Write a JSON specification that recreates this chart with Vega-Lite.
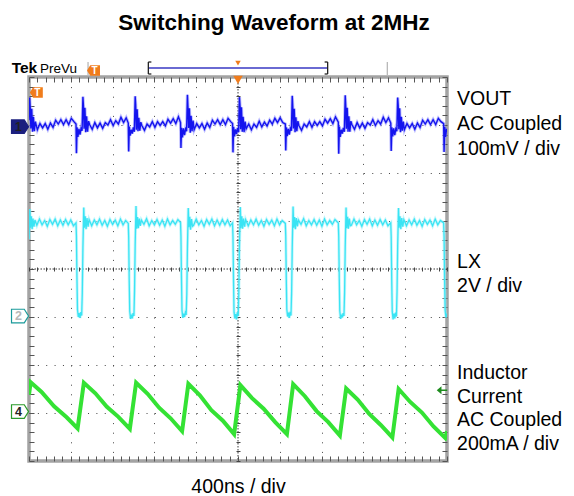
{
"$schema": "https://vega.github.io/schema/vega-lite/v6.json",
"autosize": {"type": "none"},
"width": 418,
"height": 384,
"padding": {"left": 29, "top": 77, "right": 127, "bottom": 35},
"background": "white",
"title": {"text": "Switching Waveform at 2MHz", "font": "Liberation Sans", "fontSize": 22.5, "fontWeight": "bold", "color": "#000", "anchor": "middle", "dx": 36, "offset": 8, "baseline": "alphabetic"},
"config": {"view": {"stroke": "#a3a3a3", "strokeWidth": 3.5}, "font": "Liberation Sans"},
"resolve": {"axis": {"x": "independent", "y": "independent"}},
"datasets": {
"vout": [
{"t":0,"d":3.10},{"t":6,"d":3.57},{"t":12,"d":3.35},{"t":18,"d":2.93},{"t":26,"d":3.34},{"t":34,"d":2.86},{"t":42,"d":3.17},{"t":51,"d":2.87},{"t":61,"d":3.07},
{"t":80,"d":2.90},{"t":105,"d":3.03},{"t":130,"d":2.94},{"t":155,"d":3.03},{"t":180,"d":2.91},{"t":205,"d":3.04},{"t":230,"d":2.95},{"t":255,"d":3.10},{"t":280,"d":3.02},{"t":305,"d":3.11},{"t":330,"d":3.01},{"t":355,"d":3.11},{"t":380,"d":3.01},{"t":405,"d":3.14},{"t":430,"d":3.07},
{"t":450,"d":3.02},{"t":454,"d":2.41},{"t":460,"d":2.95},{"t":468,"d":2.75},{"t":478,"d":2.92},{"t":488,"d":2.80},{"t":498,"d":2.93},{"t":508,"d":2.88},{"t":516,"d":3.59},{"t":521,"d":3.40},{"t":527,"d":2.92},{"t":535,"d":3.36},{"t":543,"d":2.85},{"t":551,"d":3.18},{"t":560,"d":2.86},{"t":570,"d":3.08},
{"t":580,"d":3.01},{"t":605,"d":2.91},{"t":630,"d":3.05},{"t":655,"d":2.94},{"t":680,"d":3.04},{"t":705,"d":2.93},{"t":730,"d":3.05},{"t":755,"d":3.00},{"t":780,"d":3.11},{"t":805,"d":2.99},{"t":830,"d":3.09},{"t":855,"d":3.02},{"t":880,"d":3.16},{"t":905,"d":3.05},{"t":930,"d":3.15},
{"t":950,"d":3.04},{"t":954,"d":2.45},{"t":960,"d":2.97},{"t":968,"d":2.78},{"t":978,"d":2.90},{"t":988,"d":2.82},{"t":998,"d":2.95},{"t":1008,"d":2.86},{"t":1016,"d":3.60},{"t":1021,"d":3.42},{"t":1027,"d":2.90},{"t":1035,"d":3.33},{"t":1043,"d":2.87},{"t":1051,"d":3.15},{"t":1060,"d":2.88},{"t":1070,"d":3.06},
{"t":1080,"d":2.99},{"t":1105,"d":2.89},{"t":1130,"d":3.02},{"t":1155,"d":2.96},{"t":1180,"d":3.07},{"t":1205,"d":2.95},{"t":1230,"d":3.07},{"t":1255,"d":2.99},{"t":1280,"d":3.07},{"t":1305,"d":2.98},{"t":1330,"d":3.12},{"t":1355,"d":3.04},{"t":1380,"d":3.13},{"t":1405,"d":3.03},{"t":1430,"d":3.17},
{"t":1450,"d":3.05},{"t":1454,"d":2.52},{"t":1460,"d":2.94},{"t":1468,"d":2.74},{"t":1478,"d":2.93},{"t":1488,"d":2.79},{"t":1498,"d":2.92},{"t":1508,"d":2.87},{"t":1516,"d":3.63},{"t":1521,"d":3.38},{"t":1527,"d":2.94},{"t":1535,"d":3.35},{"t":1543,"d":2.84},{"t":1551,"d":3.19},{"t":1560,"d":2.87},{"t":1570,"d":3.09},
{"t":1580,"d":2.90},{"t":1605,"d":3.03},{"t":1630,"d":2.94},{"t":1655,"d":3.03},{"t":1680,"d":2.91},{"t":1705,"d":3.04},{"t":1730,"d":2.95},{"t":1755,"d":3.10},{"t":1780,"d":3.02},{"t":1805,"d":3.11},{"t":1830,"d":3.01},{"t":1855,"d":3.11},{"t":1880,"d":3.01},{"t":1905,"d":3.14},{"t":1930,"d":3.07},
{"t":1948,"d":3.03},{"t":1952,"d":2.43},{"t":1958,"d":2.96},{"t":1966,"d":2.76},{"t":1976,"d":2.91},{"t":1986,"d":2.81},{"t":1996,"d":2.94},{"t":2006,"d":2.85},{"t":2014,"d":3.58},{"t":2019,"d":3.41},{"t":2025,"d":2.91},{"t":2033,"d":3.37},{"t":2041,"d":2.86},{"t":2049,"d":3.17},{"t":2058,"d":2.85},{"t":2068,"d":3.07},
{"t":2078,"d":2.92},{"t":2103,"d":3.02},{"t":2128,"d":2.90},{"t":2153,"d":3.02},{"t":2178,"d":2.95},{"t":2203,"d":3.08},{"t":2228,"d":2.96},{"t":2253,"d":3.06},{"t":2278,"d":2.98},{"t":2303,"d":3.10},{"t":2328,"d":3.02},{"t":2353,"d":3.14},{"t":2378,"d":3.05},{"t":2403,"d":3.15},{"t":2428,"d":3.05},
{"t":2453,"d":3.02},{"t":2457,"d":2.47},{"t":2463,"d":2.95},{"t":2471,"d":2.77},{"t":2481,"d":2.92},{"t":2491,"d":2.80},{"t":2501,"d":2.93},{"t":2511,"d":2.88},{"t":2519,"d":3.61},{"t":2524,"d":3.39},{"t":2530,"d":2.93},{"t":2538,"d":3.34},{"t":2546,"d":2.85},{"t":2554,"d":3.16},{"t":2563,"d":2.87},{"t":2573,"d":3.08},
{"t":2583,"d":2.99},{"t":2608,"d":2.89},{"t":2633,"d":3.02},{"t":2658,"d":2.96},{"t":2683,"d":3.07},{"t":2708,"d":2.95},{"t":2733,"d":3.07},{"t":2758,"d":2.99},{"t":2783,"d":3.07},{"t":2808,"d":2.98},{"t":2833,"d":3.12},{"t":2858,"d":3.04},{"t":2883,"d":3.13},{"t":2908,"d":3.03},{"t":2933,"d":3.17},
{"t":2960,"d":3.06},{"t":2964,"d":2.40},{"t":2970,"d":2.97},{"t":2978,"d":2.75},{"t":2988,"d":2.90},{"t":2998,"d":2.82},{"t":3008,"d":2.94},{"t":3018,"d":2.86},{"t":3026,"d":3.62},{"t":3031,"d":3.40},{"t":3037,"d":2.92},{"t":3045,"d":3.36},{"t":3053,"d":2.86},{"t":3061,"d":3.18},{"t":3070,"d":2.86},{"t":3080,"d":3.08},
{"t":3090,"d":3.01},{"t":3115,"d":2.91},{"t":3140,"d":3.05},{"t":3165,"d":2.94},{"t":3190,"d":3.04},{"t":3215,"d":2.93},{"t":3240,"d":3.05},{"t":3265,"d":3.00},{"t":3290,"d":3.11},{"t":3315,"d":2.99},{"t":3340,"d":3.09},{"t":3365,"d":3.02},{"t":3390,"d":3.16},{"t":3415,"d":3.05},{"t":3440,"d":3.15},
{"t":3462,"d":3.04},{"t":3466,"d":2.46},{"t":3472,"d":2.95},{"t":3480,"d":2.76},{"t":3490,"d":2.93},{"t":3500,"d":2.79},{"t":3510,"d":2.92},{"t":3520,"d":2.87},{"t":3528,"d":3.57},{"t":3533,"d":3.41},{"t":3539,"d":2.91},{"t":3547,"d":3.35},{"t":3555,"d":2.85},{"t":3563,"d":3.17},{"t":3572,"d":2.88},{"t":3582,"d":3.07},
{"t":3592,"d":2.90},{"t":3617,"d":3.03},{"t":3642,"d":2.94},{"t":3667,"d":3.03},{"t":3692,"d":2.91},{"t":3717,"d":3.04},{"t":3742,"d":2.95},{"t":3767,"d":3.10},{"t":3792,"d":3.02},{"t":3817,"d":3.11},{"t":3842,"d":3.01},{"t":3867,"d":3.11},{"t":3892,"d":3.01},{"t":3917,"d":3.14},{"t":3942,"d":3.07},
{"t":3968,"d":3.03},{"t":3972,"d":2.44},{"t":3978,"d":2.96},{"t":3986,"d":2.75},{"t":3996,"d":2.92},{"t":4000,"d":2.86}
],
"lx": [
{"t":0,"d":0.62},{"t":8,"d":1.25},{"t":14,"d":0.86},{"t":22,"d":1.10},{"t":30,"d":0.83},{"t":38,"d":1.05},{"t":47,"d":0.88},{"t":57,"d":1.02},
{"t":75,"d":0.91},{"t":100,"d":1.04},{"t":125,"d":0.92},{"t":150,"d":1.01},{"t":175,"d":0.89},{"t":200,"d":1.03},{"t":225,"d":0.93},{"t":250,"d":1.04},{"t":275,"d":0.90},{"t":300,"d":1.02},{"t":325,"d":0.91},{"t":350,"d":1.03},{"t":375,"d":0.92},{"t":400,"d":1.02},{"t":425,"d":0.90},
{"t":450,"d":0.96},{"t":454,"d":0.68},{"t":459,"d":-0.20},{"t":464,"d":-0.85},{"t":472,"d":-1.00},{"t":480,"d":-0.92},{"t":488,"d":-1.02},{"t":496,"d":-0.90},{"t":504,"d":-0.97},{"t":510,"d":-0.50},{"t":516,"d":0.45},{"t":524,"d":1.28},{"t":530,"d":0.86},{"t":538,"d":1.10},{"t":546,"d":0.83},{"t":555,"d":1.06},{"t":565,"d":0.88},
{"t":575,"d":1.03},{"t":600,"d":0.90},{"t":625,"d":1.02},{"t":650,"d":0.92},{"t":675,"d":1.04},{"t":700,"d":0.91},{"t":725,"d":1.01},{"t":750,"d":0.89},{"t":775,"d":1.03},{"t":800,"d":0.93},{"t":825,"d":1.02},{"t":850,"d":0.90},{"t":875,"d":1.04},{"t":900,"d":0.92},{"t":925,"d":1.01},
{"t":950,"d":0.95},{"t":954,"d":0.66},{"t":959,"d":-0.25},{"t":964,"d":-0.88},{"t":972,"d":-1.04},{"t":980,"d":-0.95},{"t":988,"d":-1.03},{"t":996,"d":-0.92},{"t":1004,"d":-0.98},{"t":1010,"d":-0.45},{"t":1016,"d":0.50},{"t":1024,"d":1.31},{"t":1030,"d":0.84},{"t":1038,"d":1.08},{"t":1046,"d":0.85},{"t":1055,"d":1.05},{"t":1065,"d":0.90},
{"t":1075,"d":1.02},{"t":1100,"d":0.93},{"t":1125,"d":1.05},{"t":1150,"d":0.90},{"t":1175,"d":1.01},{"t":1200,"d":0.92},{"t":1225,"d":1.03},{"t":1250,"d":0.91},{"t":1275,"d":1.02},{"t":1300,"d":0.89},{"t":1325,"d":1.04},{"t":1350,"d":0.92},{"t":1375,"d":1.01},{"t":1400,"d":0.93},{"t":1425,"d":1.03},
{"t":1450,"d":0.97},{"t":1454,"d":0.70},{"t":1459,"d":-0.18},{"t":1464,"d":-0.86},{"t":1472,"d":-1.02},{"t":1480,"d":-0.93},{"t":1488,"d":-1.00},{"t":1496,"d":-0.91},{"t":1504,"d":-0.96},{"t":1510,"d":-0.52},{"t":1516,"d":0.42},{"t":1524,"d":1.27},{"t":1530,"d":0.87},{"t":1538,"d":1.09},{"t":1546,"d":0.82},{"t":1555,"d":1.04},{"t":1565,"d":0.89},
{"t":1575,"d":0.91},{"t":1600,"d":1.04},{"t":1625,"d":0.92},{"t":1650,"d":1.01},{"t":1675,"d":0.89},{"t":1700,"d":1.03},{"t":1725,"d":0.93},{"t":1750,"d":1.04},{"t":1775,"d":0.90},{"t":1800,"d":1.02},{"t":1825,"d":0.91},{"t":1850,"d":1.03},{"t":1875,"d":0.92},{"t":1900,"d":1.02},{"t":1925,"d":0.90},
{"t":1948,"d":0.96},{"t":1952,"d":0.67},{"t":1957,"d":-0.22},{"t":1962,"d":-0.90},{"t":1970,"d":-1.03},{"t":1978,"d":-0.94},{"t":1986,"d":-1.05},{"t":1994,"d":-0.90},{"t":2002,"d":-0.98},{"t":2008,"d":-0.48},{"t":2014,"d":0.47},{"t":2022,"d":1.29},{"t":2028,"d":0.85},{"t":2036,"d":1.10},{"t":2044,"d":0.84},{"t":2053,"d":1.05},{"t":2063,"d":0.88},
{"t":2073,"d":1.03},{"t":2098,"d":0.90},{"t":2123,"d":1.02},{"t":2148,"d":0.92},{"t":2173,"d":1.04},{"t":2198,"d":0.91},{"t":2223,"d":1.01},{"t":2248,"d":0.89},{"t":2273,"d":1.03},{"t":2298,"d":0.93},{"t":2323,"d":1.02},{"t":2348,"d":0.90},{"t":2373,"d":1.04},{"t":2398,"d":0.92},{"t":2423,"d":1.01},
{"t":2453,"d":0.95},{"t":2457,"d":0.69},{"t":2462,"d":-0.21},{"t":2467,"d":-0.84},{"t":2475,"d":-0.99},{"t":2483,"d":-0.91},{"t":2491,"d":-1.02},{"t":2499,"d":-0.89},{"t":2507,"d":-0.97},{"t":2513,"d":-0.50},{"t":2519,"d":0.44},{"t":2527,"d":1.30},{"t":2533,"d":0.86},{"t":2541,"d":1.08},{"t":2549,"d":0.83},{"t":2558,"d":1.06},{"t":2568,"d":0.89},
{"t":2578,"d":1.02},{"t":2603,"d":0.93},{"t":2628,"d":1.05},{"t":2653,"d":0.90},{"t":2678,"d":1.01},{"t":2703,"d":0.92},{"t":2728,"d":1.03},{"t":2753,"d":0.91},{"t":2778,"d":1.02},{"t":2803,"d":0.89},{"t":2828,"d":1.04},{"t":2853,"d":0.92},{"t":2878,"d":1.01},{"t":2903,"d":0.93},{"t":2928,"d":1.03},
{"t":2960,"d":0.96},{"t":2964,"d":0.68},{"t":2969,"d":-0.20},{"t":2974,"d":-0.87},{"t":2982,"d":-1.04},{"t":2990,"d":-0.95},{"t":2998,"d":-1.01},{"t":3006,"d":-0.92},{"t":3014,"d":-0.98},{"t":3020,"d":-0.49},{"t":3026,"d":0.46},{"t":3034,"d":1.28},{"t":3040,"d":0.85},{"t":3048,"d":1.09},{"t":3056,"d":0.84},{"t":3065,"d":1.05},{"t":3075,"d":0.90},
{"t":3085,"d":0.91},{"t":3110,"d":1.04},{"t":3135,"d":0.92},{"t":3160,"d":1.01},{"t":3185,"d":0.89},{"t":3210,"d":1.03},{"t":3235,"d":0.93},{"t":3260,"d":1.04},{"t":3285,"d":0.90},{"t":3310,"d":1.02},{"t":3335,"d":0.91},{"t":3360,"d":1.03},{"t":3385,"d":0.92},{"t":3410,"d":1.02},{"t":3435,"d":0.90},
{"t":3462,"d":0.96},{"t":3466,"d":0.67},{"t":3471,"d":-0.23},{"t":3476,"d":-0.88},{"t":3484,"d":-1.05},{"t":3492,"d":-0.93},{"t":3500,"d":-1.03},{"t":3508,"d":-0.91},{"t":3516,"d":-0.99},{"t":3522,"d":-0.47},{"t":3528,"d":0.48},{"t":3536,"d":1.27},{"t":3542,"d":0.86},{"t":3550,"d":1.10},{"t":3558,"d":0.83},{"t":3567,"d":1.06},{"t":3577,"d":0.88},
{"t":3587,"d":1.03},{"t":3612,"d":0.90},{"t":3637,"d":1.02},{"t":3662,"d":0.92},{"t":3687,"d":1.04},{"t":3712,"d":0.91},{"t":3737,"d":1.01},{"t":3762,"d":0.89},{"t":3787,"d":1.03},{"t":3812,"d":0.93},{"t":3837,"d":1.02},{"t":3862,"d":0.90},{"t":3887,"d":1.04},{"t":3912,"d":0.92},{"t":3937,"d":1.01},
{"t":3968,"d":0.96},{"t":3972,"d":0.68},{"t":3977,"d":-0.20},{"t":3982,"d":-0.86},{"t":3990,"d":-1.01},{"t":3998,"d":-0.93},{"t":4000,"d":-0.95}
],
"il": [
{"t":0,"d":-2.62},{"t":16,"d":-2.36},{"t":120,"d":-2.56},{"t":240,"d":-2.86},{"t":360,"d":-3.09},{"t":465,"d":-3.32},
{"t":525,"d":-2.37},{"t":635,"d":-2.59},{"t":745,"d":-2.87},{"t":855,"d":-3.08},{"t":965,"d":-3.33},
{"t":1025,"d":-2.37},{"t":1135,"d":-2.60},{"t":1245,"d":-2.89},{"t":1355,"d":-3.11},{"t":1465,"d":-3.38},
{"t":1525,"d":-2.39},{"t":1635,"d":-2.63},{"t":1745,"d":-2.94},{"t":1855,"d":-3.16},{"t":1963,"d":-3.44},
{"t":2023,"d":-2.42},{"t":2134,"d":-2.69},{"t":2245,"d":-2.91},{"t":2356,"d":-3.19},{"t":2468,"d":-3.44},
{"t":2528,"d":-2.40},{"t":2640,"d":-2.65},{"t":2752,"d":-2.96},{"t":2864,"d":-3.19},{"t":2975,"d":-3.47},
{"t":3035,"d":-2.49},{"t":3145,"d":-2.72},{"t":3256,"d":-3.02},{"t":3366,"d":-3.25},{"t":3477,"d":-3.51},
{"t":3537,"d":-2.50},{"t":3648,"d":-2.77},{"t":3760,"d":-2.99},{"t":3871,"d":-3.28},{"t":3983,"d":-3.52},{"t":4000,"d":-3.38}
],
"labels": [
{"t":4096,"d":3.417,"text":"VOUT"},{"t":4096,"d":2.896,"text":"AC Coupled"},{"t":4096,"d":2.375,"text":"100mV / div"},
{"t":4096,"d":0.021,"text":"LX"},{"t":4096,"d":-0.479,"text":"2V / div"},
{"t":4096,"d":-2.292,"text":"Inductor"},{"t":4096,"d":-2.792,"text":"Current"},{"t":4096,"d":-3.271,"text":"AC Coupled"},{"t":4096,"d":-3.771,"text":"200mA / div"}
],
"chmarks": [
{"t":-86,"d":2.965,"ch":"1"},{"t":-86,"d":-0.98,"ch":"2"},{"t":-86,"d":-2.97,"ch":"4"}
],
"brackets": [
{"t":1142,"t2":1142,"d":4.0625,"d2":4.3125,"part":"bracket"},
{"t":1142,"t2":1171,"d":4.3125,"d2":4.3125,"part":"bracket"},
{"t":1142,"t2":1171,"d":4.0625,"d2":4.0625,"part":"bracket"},
{"t":2858,"t2":2858,"d":4.0625,"d2":4.3125,"part":"bracket"},
{"t":2829,"t2":2858,"d":4.3125,"d2":4.3125,"part":"bracket"},
{"t":2829,"t2":2858,"d":4.0625,"d2":4.0625,"part":"bracket"},
{"t":3429,"t2":3429,"d":4.04,"d2":4.31,"part":"divider"},
{"t":565,"t2":565,"d":4.04,"d2":4.31,"part":"divider"}
]
},
"layer": [
{"data": {"values": [{"d": 0}]}, "mark": {"type": "rule", "color": "#3a3a3a", "strokeWidth": 1, "strokeDash": [1.5, 1.5]},
 "encoding": {"y": {"field": "d", "type": "quantitative", "scale": {"domain": [-4, 4], "nice": false, "zero": false}, "axis": null}}},
{"data": {"values": [{"t": 2000}]}, "mark": {"type": "rule", "color": "#3a3a3a", "strokeWidth": 1, "strokeDash": [1.5, 1.5]},
 "encoding": {"x": {"field": "t", "type": "quantitative", "scale": {"domain": [0, 4000], "nice": false, "zero": false}, "axis": null}}},
{"data": {"name": "il"}, "mark": {"type": "line", "color": "#34e234", "strokeWidth": 4, "clip": true},
 "encoding": {
  "x": {"field": "t", "type": "quantitative", "scale": {"domain": [0, 4000], "nice": false, "zero": false},
        "axis": {"orient": "bottom", "values": [0,80,160,240,320,400,480,560,640,720,800,880,960,1040,1120,1200,1280,1360,1440,1520,1600,1680,1760,1840,1920,2000,2080,2160,2240,2320,2400,2480,2560,2640,2720,2800,2880,2960,3040,3120,3200,3280,3360,3440,3520,3600,3680,3760,3840,3920,4000],
                 "tickSize": -5, "tickColor": "#555", "domain": false, "labels": false, "grid": false,
                 "title": "400ns / div", "titleFont": "Liberation Sans", "titleFontSize": 19.5, "titleFontWeight": "normal", "titleColor": "#000", "titleBaseline": "alphabetic", "titlePadding": 31}},
  "y": {"field": "d", "type": "quantitative", "scale": {"domain": [-4, 4], "nice": false, "zero": false},
        "axis": {"orient": "left", "values": [-4,-3.8,-3.6,-3.4,-3.2,-3,-2.8,-2.6,-2.4,-2.2,-2,-1.8,-1.6,-1.4,-1.2,-1,-0.8,-0.6,-0.4,-0.2,0,0.2,0.4,0.6,0.8,1,1.2,1.4,1.6,1.8,2,2.2,2.4,2.6,2.8,3,3.2,3.4,3.6,3.8,4],
                 "tickSize": -5, "tickColor": "#555", "domain": false, "labels": false, "grid": false, "title": null}}}},
{"data": {"name": "lx"}, "mark": {"type": "line", "color": "#9ff2fa", "strokeWidth": 3, "opacity": 0.6, "clip": true},
 "encoding": {
  "x": {"field": "t", "type": "quantitative", "scale": {"domain": [0, 4000], "nice": false, "zero": false}, "axis": null},
  "y": {"field": "d", "type": "quantitative", "scale": {"domain": [-4, 4], "nice": false, "zero": false}, "axis": null}}},
{"data": {"name": "lx"}, "mark": {"type": "line", "color": "#3ae4f4", "strokeWidth": 1.3, "clip": true},
 "encoding": {
  "x": {"field": "t", "type": "quantitative", "scale": {"domain": [0, 4000], "nice": false, "zero": false},
        "axis": {"orient": "bottom", "values": [400,800,1200,1600,2400,2800,3200,3600], "grid": true, "gridDash": [1, 8.6], "gridColor": "#444", "gridWidth": 1, "ticks": false, "labels": false, "domain": false, "title": null}},
  "y": {"field": "d", "type": "quantitative", "scale": {"domain": [-4, 4], "nice": false, "zero": false},
        "axis": {"orient": "left", "values": [-3,-2,-1,1,2,3], "grid": true, "gridDash": [1, 7.36], "gridColor": "#444", "gridWidth": 1, "ticks": false, "labels": false, "domain": false, "title": null}}}},
{"data": {"name": "vout"}, "mark": {"type": "line", "color": "#8a8aff", "strokeWidth": 3.2, "opacity": 0.55, "clip": true},
 "encoding": {
  "x": {"field": "t", "type": "quantitative", "scale": {"domain": [0, 4000], "nice": false, "zero": false}, "axis": null},
  "y": {"field": "d", "type": "quantitative", "scale": {"domain": [-4, 4], "nice": false, "zero": false}, "axis": null}}},
{"data": {"name": "vout"}, "mark": {"type": "line", "color": "#1414ee", "strokeWidth": 1.4, "clip": true},
 "encoding": {
  "x": {"field": "t", "type": "quantitative", "scale": {"domain": [0, 4000], "nice": false, "zero": false},
        "axis": {"orient": "bottom", "offset": -194, "values": [0,80,160,240,320,400,480,560,640,720,800,880,960,1040,1120,1200,1280,1360,1440,1520,1600,1680,1760,1840,1920,2000,2080,2160,2240,2320,2400,2480,2560,2640,2720,2800,2880,2960,3040,3120,3200,3280,3360,3440,3520,3600,3680,3760,3840,3920,4000],
                 "tickSize": 4, "tickColor": "#444", "domain": false, "labels": false, "grid": false, "title": null}},
  "y": {"field": "d", "type": "quantitative", "scale": {"domain": [-4, 4], "nice": false, "zero": false},
        "axis": {"orient": "left", "offset": -211, "values": [-4,-3.8,-3.6,-3.4,-3.2,-3,-2.8,-2.6,-2.4,-2.2,-2,-1.8,-1.6,-1.4,-1.2,-1,-0.8,-0.6,-0.4,-0.2,0,0.2,0.4,0.6,0.8,1,1.2,1.4,1.6,1.8,2,2.2,2.4,2.6,2.8,3,3.2,3.4,3.6,3.8,4],
                 "tickSize": 4, "tickColor": "#444", "domain": false, "labels": false, "grid": false, "title": null}}}},
{"data": {"name": "labels"}, "mark": {"type": "text", "align": "left", "baseline": "alphabetic", "fontSize": 19.5, "color": "#000"},
 "encoding": {
  "x": {"field": "t", "type": "quantitative", "scale": {"domain": [0, 4000], "nice": false, "zero": false},
        "axis": {"orient": "top", "values": [0,80,160,240,320,400,480,560,640,720,800,880,960,1040,1120,1200,1280,1360,1440,1520,1600,1680,1760,1840,1920,2000,2080,2160,2240,2320,2400,2480,2560,2640,2720,2800,2880,2960,3040,3120,3200,3280,3360,3440,3520,3600,3680,3760,3840,3920,4000],
                 "tickSize": -5, "tickColor": "#555", "domain": false, "labels": false, "grid": false, "title": null}},
  "y": {"field": "d", "type": "quantitative", "scale": {"domain": [-4, 4], "nice": false, "zero": false},
        "axis": {"orient": "right", "values": [-4,-3.8,-3.6,-3.4,-3.2,-3,-2.8,-2.6,-2.4,-2.2,-2,-1.8,-1.6,-1.4,-1.2,-1,-0.8,-0.6,-0.4,-0.2,0,0.2,0.4,0.6,0.8,1,1.2,1.4,1.6,1.8,2,2.2,2.4,2.6,2.8,3,3.2,3.4,3.6,3.8,4],
                 "tickSize": -5, "tickColor": "#555", "domain": false, "labels": false, "grid": false, "title": null}},
  "text": {"field": "text", "type": "nominal"}}},
{"data": {"values": [{"t": -166, "d": 4.077, "text": "Tek"}]}, "mark": {"type": "text", "align": "left", "baseline": "alphabetic", "fontSize": 15.5, "fontWeight": "bold", "color": "#000", "letterSpacing": -0.5},
 "encoding": {
  "x": {"field": "t", "type": "quantitative", "scale": {"domain": [0, 4000], "nice": false, "zero": false}, "axis": null},
  "y": {"field": "d", "type": "quantitative", "scale": {"domain": [-4, 4], "nice": false, "zero": false}, "axis": null},
  "text": {"field": "text", "type": "nominal"}}},
{"data": {"values": [{"t": 105, "d": 4.09, "text": "PreVu"}]}, "mark": {"type": "text", "align": "left", "baseline": "alphabetic", "fontSize": 13.5, "color": "#000"},
 "encoding": {
  "x": {"field": "t", "type": "quantitative", "scale": {"domain": [0, 4000], "nice": false, "zero": false}, "axis": null},
  "y": {"field": "d", "type": "quantitative", "scale": {"domain": [-4, 4], "nice": false, "zero": false}, "axis": null},
  "text": {"field": "text", "type": "nominal"}}},
{"data": {"values": [{"t": 1142, "t2": 2858, "d": 4.1875}]}, "mark": {"type": "rule", "color": "#6a6ad2", "strokeWidth": 2},
 "encoding": {
  "x": {"field": "t", "type": "quantitative", "scale": {"domain": [0, 4000], "nice": false, "zero": false}, "axis": null},
  "x2": {"field": "t2"},
  "y": {"field": "d", "type": "quantitative", "scale": {"domain": [-4, 4], "nice": false, "zero": false}, "axis": null}}},
{"data": {"name": "brackets"}, "mark": {"type": "rule", "strokeWidth": 1.3},
 "encoding": {
  "x": {"field": "t", "type": "quantitative", "scale": {"domain": [0, 4000], "nice": false, "zero": false}, "axis": null},
  "x2": {"field": "t2"},
  "y": {"field": "d", "type": "quantitative", "scale": {"domain": [-4, 4], "nice": false, "zero": false}, "axis": null},
  "y2": {"field": "d2"},
  "color": {"field": "part", "type": "nominal", "scale": {"domain": ["bracket", "divider"], "range": ["#222222", "#b8b8b8"]}, "legend": null}}},
{"data": {"values": [{"t": 2000, "d": 4.29}]}, "mark": {"type": "point", "shape": "triangle-down", "filled": true, "color": "#f07c1c", "size": 30, "opacity": 1},
 "encoding": {
  "x": {"field": "t", "type": "quantitative", "scale": {"domain": [0, 4000], "nice": false, "zero": false}, "axis": null},
  "y": {"field": "d", "type": "quantitative", "scale": {"domain": [-4, 4], "nice": false, "zero": false}, "axis": null}}},
{"data": {"values": [{"t": 2000, "d": 3.94}]}, "mark": {"type": "point", "shape": "triangle-down", "filled": true, "color": "#f07c1c", "size": 90, "opacity": 1},
 "encoding": {
  "x": {"field": "t", "type": "quantitative", "scale": {"domain": [0, 4000], "nice": false, "zero": false}, "axis": null},
  "y": {"field": "d", "type": "quantitative", "scale": {"domain": [-4, 4], "nice": false, "zero": false}, "axis": null}}},
{"data": {"values": [{"t": 617, "d": 4.135}, {"t": 70, "d": 3.677}]}, "mark": {"type": "point", "shape": "M-1,0 L-0.5,-0.8 L1,-0.8 L1,0.8 L-0.5,0.8 Z", "filled": true, "color": "#f07c1c", "size": 169, "opacity": 1},
 "encoding": {
  "x": {"field": "t", "type": "quantitative", "scale": {"domain": [0, 4000], "nice": false, "zero": false}, "axis": null},
  "y": {"field": "d", "type": "quantitative", "scale": {"domain": [-4, 4], "nice": false, "zero": false}, "axis": null}}},
{"data": {"values": [{"t": 627, "d": 4.135, "text": "T"}, {"t": 80, "d": 3.677, "text": "T"}]}, "mark": {"type": "text", "align": "center", "baseline": "middle", "fontSize": 10, "fontWeight": "bold", "color": "#ffffff"},
 "encoding": {
  "x": {"field": "t", "type": "quantitative", "scale": {"domain": [0, 4000], "nice": false, "zero": false}, "axis": null},
  "y": {"field": "d", "type": "quantitative", "scale": {"domain": [-4, 4], "nice": false, "zero": false}, "axis": null},
  "text": {"field": "text", "type": "nominal"}}},
{"data": {"values": [{"t": 3952, "d": -2.527}]}, "mark": {"type": "point", "shape": "M-1,0 L-0.1,-0.75 L-0.1,0.75 Z M-0.1,-0.15 L1,-0.15 L1,0.15 L-0.1,0.15 Z", "filled": true, "color": "#1e8c1e", "size": 110, "opacity": 1},
 "encoding": {
  "x": {"field": "t", "type": "quantitative", "scale": {"domain": [0, 4000], "nice": false, "zero": false}, "axis": null},
  "y": {"field": "d", "type": "quantitative", "scale": {"domain": [-4, 4], "nice": false, "zero": false}, "axis": null}}},
{"data": {"name": "chmarks"}, "mark": {"type": "point", "shape": "M-1,-0.8 L0.5,-0.8 L1,0 L0.5,0.8 L-1,0.8 Z", "filled": true, "size": 289, "opacity": 1, "strokeWidth": 1.2},
 "encoding": {
  "x": {"field": "t", "type": "quantitative", "scale": {"domain": [0, 4000], "nice": false, "zero": false}, "axis": null},
  "y": {"field": "d", "type": "quantitative", "scale": {"domain": [-4, 4], "nice": false, "zero": false}, "axis": null},
  "fill": {"field": "ch", "type": "nominal", "scale": {"domain": ["1", "2", "4"], "range": ["#1b1f7e", "#ffffff", "#ffffff"]}, "legend": null},
  "stroke": {"field": "ch", "type": "nominal", "scale": {"domain": ["1", "2", "4"], "range": ["#1b1f7e", "#1a9a9a", "#2a9a2a"]}, "legend": null}}},
{"data": {"name": "chmarks"}, "mark": {"type": "text", "align": "center", "baseline": "middle", "fontSize": 12.5, "fontWeight": "bold", "dx": -1.5},
 "encoding": {
  "x": {"field": "t", "type": "quantitative", "scale": {"domain": [0, 4000], "nice": false, "zero": false}, "axis": null},
  "y": {"field": "d", "type": "quantitative", "scale": {"domain": [-4, 4], "nice": false, "zero": false}, "axis": null},
  "text": {"field": "ch", "type": "nominal"},
  "color": {"field": "ch", "type": "nominal", "scale": {"domain": ["1", "2", "4"], "range": ["#ffffff", "#1a9a9a", "#2a9a2a"]}, "legend": null}}}
]
}
